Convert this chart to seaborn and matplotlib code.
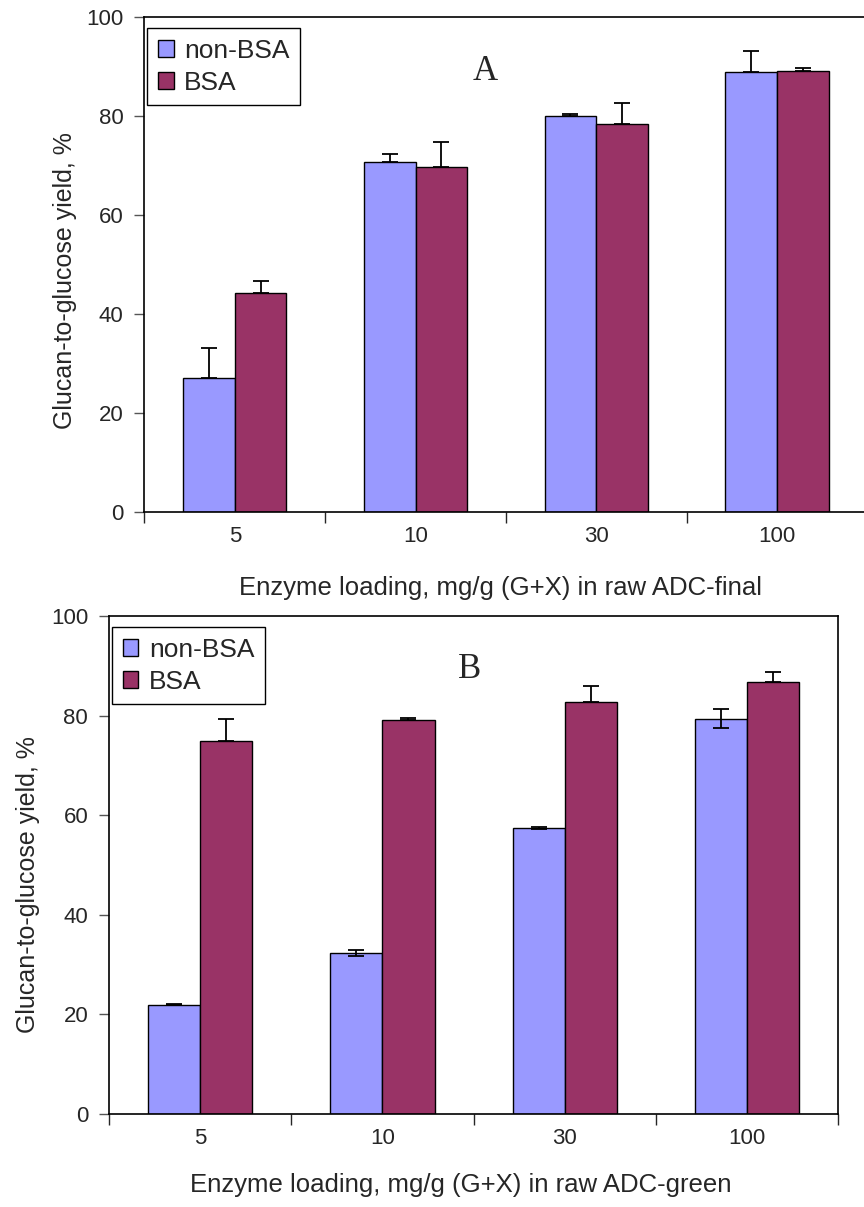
import matplotlib
matplotlib.use("Agg")

import matplotlib.pyplot as plt
from matplotlib.ticker import FixedLocator
import seaborn as sns
import pandas as pd

loadings = ["5", "10", "30", "100"]
groups = ["non-BSA", "BSA"]

# panel A: raw ADC-final
a_non = [27.0, 70.7, 80.1, 88.9]
a_non_err = [6.1, 1.7, 0.3, 4.3]
a_bsa = [44.3, 69.8, 78.3, 89.1]
a_bsa_err = [2.4, 4.9, 4.3, 0.6]

# panel B: raw ADC-green
b_non = [21.9, 32.3, 57.4, 79.4]
b_non_err = [0.1, 0.65, 0.25, 2.0]
b_bsa = [74.9, 79.2, 82.8, 86.8]
b_bsa_err = [4.5, 0.25, 3.1, 2.0]

colors = ["#9999FF", "#993366"]

sns.set_style("ticks")
plt.rcParams["font.family"] = ["Liberation Sans", "DejaVu Sans"]


def panel(ax, non, non_err, bsa, bsa_err, lower, letter, letter_pos, xlabel, label_pos):
    df = pd.DataFrame({
        "loading": loadings * 2,
        "yield": non + bsa,
        "group": [groups[0]] * 4 + [groups[1]] * 4,
    })
    sns.barplot(data=df, x="loading", y="yield", hue="group", order=loadings,
                hue_order=groups, palette=colors, saturation=1, width=4 / 7,
                errorbar=None, edgecolor="black", linewidth=1, ax=ax)

    # error bars on top of the bars the library drew
    for cont, vals, err, lo in zip(ax.containers, [non, bsa], [non_err, bsa_err], lower):
        xs = [p.get_x() + p.get_width() / 2 for p in cont]
        low = err if lo else [0] * len(err)
        ax.errorbar(xs, vals, yerr=[low, err], fmt="none", ecolor="black",
                    elinewidth=1.3, capsize=6, capthick=1.3, zorder=5)

    ax.set_ylim(0, 100)
    ax.set_xlim(-0.5, 3.5)
    ax.set_yticks([0, 20, 40, 60, 80, 100])
    ax.xaxis.set_minor_locator(FixedLocator([-0.5, 0.5, 1.5, 2.5, 3.5]))
    ax.tick_params(axis="x", which="major", length=0, labelsize=16, pad=10)
    ax.tick_params(axis="x", which="minor", length=8, width=1, direction="out")
    ax.tick_params(axis="y", length=7, width=1, direction="out", labelsize=16,
                   color="#555555", pad=8)
    for s in ax.spines.values():
        s.set_visible(True)
        s.set_color("black")
        s.set_linewidth(1.2)

    ax.set_ylabel("Glucan-to-glucose yield, %", fontsize=18)
    ax.set_xlabel(xlabel, fontsize=18.5)
    ax.yaxis.set_label_coords(label_pos[0], label_pos[1])
    ax.xaxis.set_label_coords(label_pos[2], label_pos[3])
    ax.xaxis.label.set_va("center")
    ax.yaxis.label.set_va("center")

    ax.text(letter_pos[0], letter_pos[1], letter, transform=ax.transAxes,
            ha="center", va="center", fontsize=25, family="Liberation Serif")

    leg = ax.legend(loc="upper left", bbox_to_anchor=(0.004, 0.977), fontsize=19,
                    frameon=True, fancybox=False, framealpha=1, edgecolor="black",
                    handlelength=0.6, handleheight=0.6, handletextpad=0.4,
                    borderaxespad=0, borderpad=0.4, labelspacing=0.3)
    leg.get_frame().set_linewidth(1)
    for h in leg.legend_handles:
        h.set_edgecolor("black")
        h.set_linewidth(1)


fig = plt.figure(figsize=(8.64, 12.07), dpi=100)
axA = fig.add_axes([0.1672, 0.5758, 0.8366, 0.4101])
axB = fig.add_axes([0.1262, 0.0771, 0.8438, 0.4126])

panel(axA, a_non, a_non_err, a_bsa, a_bsa_err, [False, False], "A", (0.471, 0.889),
      "Enzyme loading, mg/g (G+X) in raw ADC-final", (-0.110, 0.467, 0.492, -0.154))
panel(axB, b_non, b_non_err, b_bsa, b_bsa_err, [True, False], "B", (0.495, 0.892),
      "Enzyme loading, mg/g (G+X) in raw ADC-green", (-0.111, 0.46, 0.483, -0.143))

fig.savefig("out.png", dpi=100)
plt.close(fig)
